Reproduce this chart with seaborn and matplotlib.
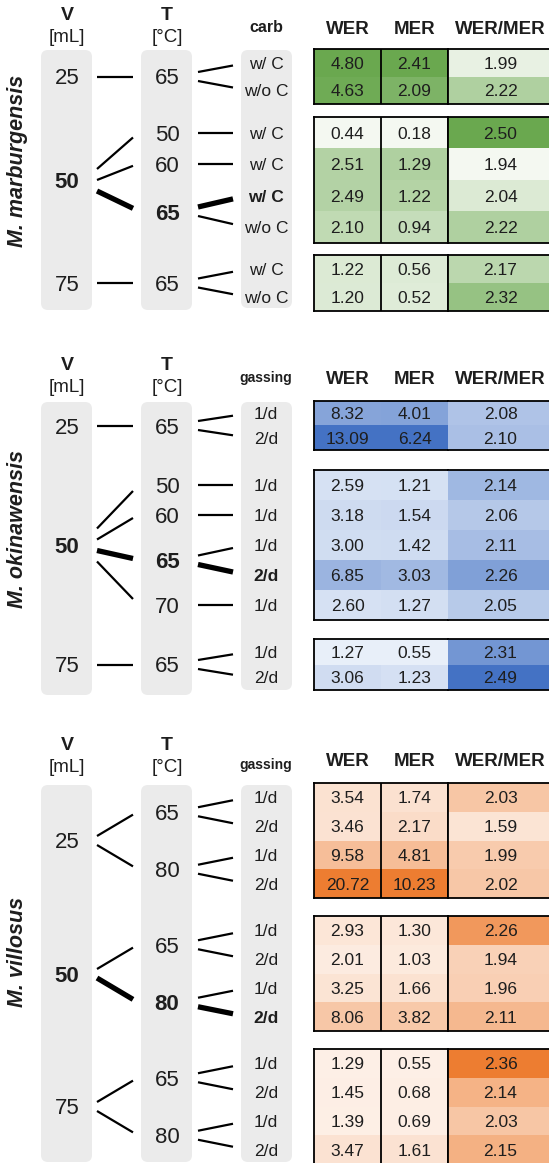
import numpy as np
import pandas as pd
import seaborn as sns
import matplotlib
matplotlib.use("Agg")
import matplotlib.pyplot as plt
from matplotlib.colors import LinearSegmentedColormap
from matplotlib.patches import FancyBboxPatch

sns.set_style("white")
plt.rcParams['font.family'] = ['Liberation Sans', 'DejaVu Sans']

# ---------------- data ----------------
columns = ["WER", "MER", "WER/MER"]

mm_title = "M. marburgensis"
mm_cond_name = "carb"
mm_V = [25, 25, 50, 50, 50, 50, 75, 75]
mm_T = [65, 65, 50, 60, 65, 65, 65, 65]
mm_cond = ["w/ C", "w/o C", "w/ C", "w/ C", "w/ C", "w/o C", "w/ C", "w/o C"]
mm_WER = [4.80, 4.63, 0.44, 2.51, 2.49, 2.10, 1.22, 1.20]
mm_MER = [2.41, 2.09, 0.18, 1.29, 1.22, 0.94, 0.56, 0.52]
mm_RATIO = [1.99, 2.22, 2.50, 1.94, 2.04, 2.22, 2.17, 2.32]
mm_best = 4

mo_title = "M. okinawensis"
mo_cond_name = "gassing"
mo_V = [25, 25, 50, 50, 50, 50, 50, 75, 75]
mo_T = [65, 65, 50, 60, 65, 65, 70, 65, 65]
mo_cond = ["1/d", "2/d", "1/d", "1/d", "1/d", "2/d", "1/d", "1/d", "2/d"]
mo_WER = [8.32, 13.09, 2.59, 3.18, 3.00, 6.85, 2.60, 1.27, 3.06]
mo_MER = [4.01, 6.24, 1.21, 1.54, 1.42, 3.03, 1.27, 0.55, 1.23]
mo_RATIO = [2.08, 2.10, 2.14, 2.06, 2.11, 2.26, 2.05, 2.31, 2.49]
mo_best = 5

mv_title = "M. villosus"
mv_cond_name = "gassing"
mv_V = [25, 25, 25, 25, 50, 50, 50, 50, 75, 75, 75, 75]
mv_T = [65, 65, 80, 80, 65, 65, 80, 80, 65, 65, 80, 80]
mv_cond = ["1/d", "2/d", "1/d", "2/d", "1/d", "2/d", "1/d", "2/d", "1/d", "2/d", "1/d", "2/d"]
mv_WER = [3.54, 3.46, 9.58, 20.72, 2.93, 2.01, 3.25, 8.06, 1.29, 1.45, 1.39, 3.47]
mv_MER = [1.74, 2.17, 4.81, 10.23, 1.30, 1.03, 1.66, 3.82, 0.55, 0.68, 0.69, 1.61]
mv_RATIO = [2.03, 1.59, 1.99, 2.02, 2.26, 1.94, 1.96, 2.11, 2.36, 2.14, 2.03, 2.15]
mv_best = 7

# ---------------- styles / layout ----------------
W, H = 549, 1163
TXT = "#1e1e1e"
GRAY = "#ebebeb"

panels = [
    dict(title=mm_title, cond_name=mm_cond_name, V=mm_V, T=mm_T, cond=mm_cond,
         vals=[mm_WER, mm_MER, mm_RATIO], best=mm_best,
         light="#f4f8f1", dark="#6aa84f", floor=[0, 0, 0], gamma=[1, 1, 1], dividers=True,
         hdr=dict(V=15, unit=37, cond=27, col=30),
         groups=[(49, 104), (117, 243), (255, 311)], box=(50, 310, 308), title_y=161),
    dict(title=mo_title, cond_name=mo_cond_name, V=mo_V, T=mo_T, cond=mo_cond,
         vals=[mo_WER, mo_MER, mo_RATIO], best=mo_best,
         light="#e8eff9", dark="#4472c4", floor=[0, 0, 0.3], gamma=[1, 1, 1], dividers=False,
         hdr=dict(V=366, unit=388, cond=378, col=379),
         groups=[(401, 450), (470, 620), (639, 690)], box=(402, 695, 690), title_y=529),
    dict(title=mv_title, cond_name=mv_cond_name, V=mv_V, T=mv_T, cond=mv_cond,
         vals=[mv_WER, mv_MER, mv_RATIO], best=mv_best,
         light="#fdefe6", dark="#ed7d31", floor=[0, 0, 0.1], gamma=[1, 1, 2.2], dividers=True,
         hdr=dict(V=746, unit=768, cond=765, col=762),
         groups=[(783, 898), (916, 1031), (1049, 1164)], box=(785, 1162, 1162), title_y=952),
]

col_x = [314, 381, 448, 553]
xV, xT, xC = 67, 167, 266
boxes_x = [(41, 92), (141, 192), (241, 292)]

fig = plt.figure(figsize=(W / 100, H / 100), dpi=100)
canvas = fig.add_axes([0, 0, 1, 1])
canvas.set_xlim(0, W)
canvas.set_ylim(H, 0)
canvas.axis("off")


def px_axes(x0, y0, x1, y1):
    return fig.add_axes([x0 / W, 1 - y1 / H, (x1 - x0) / W, (y1 - y0) / H])


def runs(keys):
    out = []
    start = 0
    for i in range(1, len(keys) + 1):
        if i == len(keys) or keys[i] != keys[start]:
            out.append((start, i))
            start = i
    return out


for P in panels:
    n = len(P["V"])
    vals = np.array(P["vals"]).T  # n x 3
    # per-column normalisation
    norm = np.zeros_like(vals)
    for j in range(3):
        c = vals[:, j]
        t = (c - c.min()) / (c.max() - c.min())
        t = t ** P["gamma"][j]
        norm[:, j] = P["floor"][j] + (1 - P["floor"][j]) * t
    cmap = LinearSegmentedColormap.from_list("c", [P["light"], P["dark"]])

    # groups by V
    vruns = runs(P["V"])
    row_y = np.zeros(n)
    for (s, e), (y0, y1) in zip(vruns, P["groups"]):
        edges = np.linspace(y0, y1, e - s + 1)
        row_y[s:e] = (edges[:-1] + edges[1:]) / 2
        annot = np.array([[f"{v:.2f}" for v in row] for row in vals[s:e]])
        kws = dict(size=12.5, color=TXT, va="center_baseline")
        axA = px_axes(col_x[0], y0, col_x[2], y1)
        sns.heatmap(pd.DataFrame(norm[s:e, :2], columns=columns[:2]), ax=axA, cmap=cmap,
                    vmin=0, vmax=1, annot=annot[:, :2], fmt="", cbar=False,
                    xticklabels=False, yticklabels=False, annot_kws=kws)
        axB = px_axes(col_x[2], y0, col_x[3], y1)
        sns.heatmap(pd.DataFrame(norm[s:e, 2:], columns=columns[2:]), ax=axB, cmap=cmap,
                    vmin=0, vmax=1, annot=annot[:, 2:], fmt="", cbar=False,
                    xticklabels=False, yticklabels=False, annot_kws=kws)
        for ax in (axA, axB):
            for sp in ax.spines.values():
                sp.set_visible(True)
                sp.set_color("black")
                sp.set_linewidth(1.3)
        if P["dividers"]:
            axA.axvline(1, color="black", lw=1.3)
        else:
            axA.spines["right"].set_visible(False)
            axB.spines["left"].set_visible(False)

    # gray boxes
    top, bot_vt, bot_c = P["box"]
    for k, (x0, x1) in enumerate(boxes_x):
        bot = bot_c if k == 2 else bot_vt
        canvas.add_patch(FancyBboxPatch((x0, top), x1 - x0, bot - top,
                                        boxstyle="round,pad=0,rounding_size=7",
                                        fc=GRAY, ec="none", zorder=1))

    # headers
    h = P["hdr"]
    canvas.text(xV, h["V"], "V", ha="center", va="center", fontsize=14, fontweight="bold", color=TXT)
    canvas.text(xV, h["unit"], "[mL]", ha="center", va="center", fontsize=13.5, color=TXT)
    canvas.text(xT, h["V"], "T", ha="center", va="center", fontsize=14, fontweight="bold", color=TXT)
    canvas.text(xT, h["unit"], "[°C]", ha="center", va="center", fontsize=13.5, color=TXT)
    canvas.text(xC, h["cond"], P["cond_name"], ha="center", va="center",
                fontsize=11.5 if P["cond_name"] == "carb" else 10, fontweight="bold", color=TXT)
    for j, name in enumerate(columns):
        canvas.text((col_x[j] + col_x[j + 1]) / 2, h["col"], name, ha="center", va="center",
                    fontsize=13.5, fontweight="bold", color=TXT)

    # title
    canvas.text(18, P["title_y"], P["title"], rotation=90, ha="center", va="center",
                fontsize=15.5, fontweight="bold", fontstyle="italic", color=TXT)

    best = P["best"]
    # condition labels
    for i in range(n):
        canvas.text(xC, row_y[i], P["cond"][i], ha="center", va="center_baseline",
                    fontsize=12.5, color=TXT, fontweight="bold" if i == best else "normal", zorder=3)

    # T nodes
    tkeys = list(zip(P["V"], P["T"]))
    truns = runs(tkeys)
    tnodes = []
    for s, e in truns:
        ty = row_y[s:e].mean()
        isb = s <= best < e
        tnodes.append((s, e, ty))
        canvas.text(xT, ty, str(P["T"][s]), ha="center", va="center_baseline", fontsize=16,
                    color=TXT, fontweight="bold" if isb else "normal", zorder=3)
        k = e - s
        for i in range(s, e):
            lw = 3.8 if i == best else 1.6
            if k == 1:
                canvas.plot([198, 233], [row_y[i], row_y[i]], color="black", lw=lw,
                            solid_capstyle="butt", zorder=3)
            else:
                sy = ty + (i - s - (k - 1) / 2) * 9
                ey = row_y[i] + 0.2 * (ty - row_y[i])
                canvas.plot([198, 233], [sy, ey], color="black", lw=lw,
                            solid_capstyle="butt", zorder=3)

    # V nodes
    for s, e in vruns:
        vy = row_y[s:e].mean()
        isb = s <= best < e
        canvas.text(xV, vy, str(P["V"][s]), ha="center", va="center_baseline", fontsize=16,
                    color=TXT, fontweight="bold" if isb else "normal", zorder=3)
        kids = [t for t in tnodes if s <= t[0] < e]
        k = len(kids)
        sp = 9 if k == 2 else 11
        for idx, (ts, te, ty) in enumerate(kids):
            lw = 3.8 if ts <= best < te else 1.6
            if k == 1:
                canvas.plot([97, 133], [ty, ty], color="black", lw=lw,
                            solid_capstyle="butt", zorder=3)
            else:
                sy = vy + (idx - (k - 1) / 2) * sp
                ey = ty + 0.1 * (vy - ty)
                canvas.plot([97, 133], [sy, ey], color="black", lw=lw,
                            solid_capstyle="butt", zorder=3)

fig.savefig("out.png", dpi=100)
